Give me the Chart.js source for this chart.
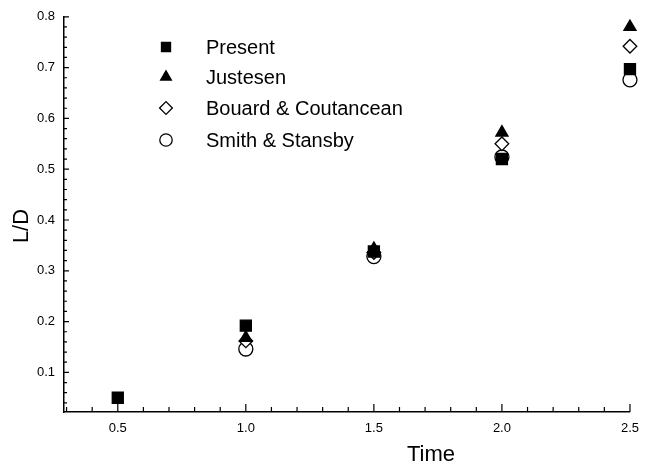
<!DOCTYPE html>
<html>
<head>
<meta charset="utf-8">
<script src="https://cdn.jsdelivr.net/npm/chart.js@4/dist/chart.umd.min.js"></script>
<style>
html,body{margin:0;padding:0;background:#fff;}
#wrap{width:648px;height:469px;position:relative;}
</style>
</head>
<body>
<div id="wrap"><canvas id="c" width="648" height="469"></canvas></div>
<script>
// ---- data ----
const seriesNames = ['Present', 'Justesen', 'Bouard & Coutancean', 'Smith & Stansby'];
const presentTimes = [0.5, 1.0, 1.5, 2.0, 2.5];
const presentValues = [0.05, 0.192, 0.338, 0.52, 0.697];
const justesenTimes = [1.0, 1.5, 2.0, 2.5];
const justesenValues = [0.168, 0.343, 0.572, 0.78];
const bouardTimes = [1.0, 1.5, 2.0, 2.5];
const bouardValues = [0.162, 0.336, 0.55, 0.742];
const smithTimes = [1.0, 1.5, 2.0, 2.5];
const smithValues = [0.146, 0.328, 0.524, 0.676];
const xTickLabels = ['0.5', '1.0', '1.5', '2.0', '2.5'];
const yTickLabels = ['0.1', '0.2', '0.3', '0.4', '0.5', '0.6', '0.7', '0.8'];
const xTitle = 'Time';
const yTitle = 'L/D';

const toPts = (xs, ys) => xs.map((x, i) => ({x: x, y: ys[i]}));

const FONT = '"Liberation Sans", Arial, Helvetica, sans-serif';

const styles = [
  {pointStyle: 'rect', radius: 7.8, fill: '#000', legendR: 6.4},
  {pointStyle: 'triangle', radius: 7, fill: '#000', legendR: 6.2},
  {pointStyle: 'rectRot', radius: 6.8, fill: '#fff', legendR: 6.4},
  {pointStyle: 'circle', radius: 7, fill: '#fff', legendR: 6.2}
];
const dataSets = [
  toPts(presentTimes, presentValues),
  toPts(justesenTimes, justesenValues),
  toPts(bouardTimes, bouardValues),
  toPts(smithTimes, smithValues)
];
const drawOrder = [3, 2, 0, 1];

const datasets = drawOrder.map((k, i) => ({
  label: seriesNames[k],
  data: dataSets[k],
  pointStyle: styles[k].pointStyle,
  pointRadius: styles[k].radius,
  pointHoverRadius: styles[k].radius,
  backgroundColor: styles[k].fill,
  borderColor: '#000',
  pointBorderWidth: 1.3,
  showLine: false,
  clip: false,
  order: drawOrder.length - i
}));

function near(v, t) { return Math.abs(v - t) < 1e-6; }

const inwardTicks = {
  id: 'inwardTicks',
  beforeDatasetsDraw(chart) {
    const ctx = chart.ctx;
    const xs = chart.scales.x, ys = chart.scales.y;
    const a = chart.chartArea;
    ctx.save();
    ctx.strokeStyle = '#000';
    ctx.lineWidth = 1.2;
    ctx.beginPath();
    xs.ticks.forEach(t => {
      const px = xs.getPixelForValue(t.value);
      const major = xTickLabels.some(l => near(parseFloat(l), t.value));
      const len = major ? 8 : 5;
      ctx.moveTo(px, a.bottom);
      ctx.lineTo(px, a.bottom - len);
    });
    ys.ticks.forEach(t => {
      const py = ys.getPixelForValue(t.value);
      const major = yTickLabels.some(l => near(parseFloat(l), t.value));
      const len = major ? 5 : 3;
      ctx.moveTo(a.left, py);
      ctx.lineTo(a.left + len, py);
    });
    ctx.stroke();
    ctx.restore();
  },
  afterDraw(chart) {
    const ctx = chart.ctx;
    ctx.save();
    ctx.fillStyle = '#000';
    // axis titles
    ctx.font = '22px ' + FONT;
    ctx.textAlign = 'center';
    ctx.textBaseline = 'middle';
    ctx.fillText(xTitle, 431, 455);
    ctx.translate(22, 226);
    ctx.rotate(-Math.PI / 2);
    ctx.fillText(yTitle, 0, 0);
    ctx.restore();

    // legend
    ctx.save();
    const rows = [47, 77, 108, 140];
    ctx.font = '20px ' + FONT;
    ctx.textAlign = 'left';
    ctx.textBaseline = 'middle';
    for (let k = 0; k < seriesNames.length; k++) {
      const y = rows[k];
      ctx.fillStyle = styles[k].fill;
      ctx.strokeStyle = '#000';
      ctx.lineWidth = 1.3;
      if (Chart.helpers && Chart.helpers.drawPoint) {
        Chart.helpers.drawPoint(ctx, {pointStyle: styles[k].pointStyle, radius: styles[k].legendR, rotation: 0, borderWidth: 1.3}, 166, y);
      }
      ctx.fillStyle = '#000';
      ctx.fillText(seriesNames[k], 206, y + 1);
    }
    ctx.restore();
  }
};

new Chart(document.getElementById('c'), {
  type: 'scatter',
  data: {datasets: datasets},
  options: {
    responsive: false,
    animation: false,
    events: [],
    layout: {padding: {left: 0, top: 15, right: 10, bottom: 0}},
    plugins: {legend: {display: false}, tooltip: {enabled: false}},
    scales: {
      x: {
        type: 'linear',
        min: 0.29, max: 2.5,
        grid: {display: false, drawTicks: false},
        border: {display: true, color: '#000', width: 1.5},
        afterBuildTicks(scale) {
          const t = [];
          for (let i = 3; i <= 25; i++) t.push({value: i / 10});
          scale.ticks = t;
        },
        ticks: {
          autoSkip: false,
          maxRotation: 0,
          padding: 9,
          color: '#000',
          font: {family: FONT, size: 13},
          callback(v) {
            const idx = xTickLabels.findIndex(l => near(parseFloat(l), v));
            return idx >= 0 ? xTickLabels[idx] : '';
          }
        },
        afterFit(scale) { scale.height = 57; }
      },
      y: {
        type: 'linear',
        min: 0.022, max: 0.8,
        grid: {display: false, drawTicks: false},
        border: {display: true, color: '#000', width: 1.5},
        afterBuildTicks(scale) {
          const t = [];
          for (let i = 2; i <= 40; i++) t.push({value: i / 50});
          scale.ticks = t;
        },
        ticks: {
          autoSkip: false,
          padding: 9,
          color: '#000',
          font: {family: FONT, size: 13},
          callback(v) {
            const idx = yTickLabels.findIndex(l => near(parseFloat(l), v));
            return idx >= 0 ? yTickLabels[idx] : '';
          }
        },
        afterFit(scale) { scale.width = 64; }
      }
    }
  },
  plugins: [inwardTicks]
});
</script>
</body>
</html>
